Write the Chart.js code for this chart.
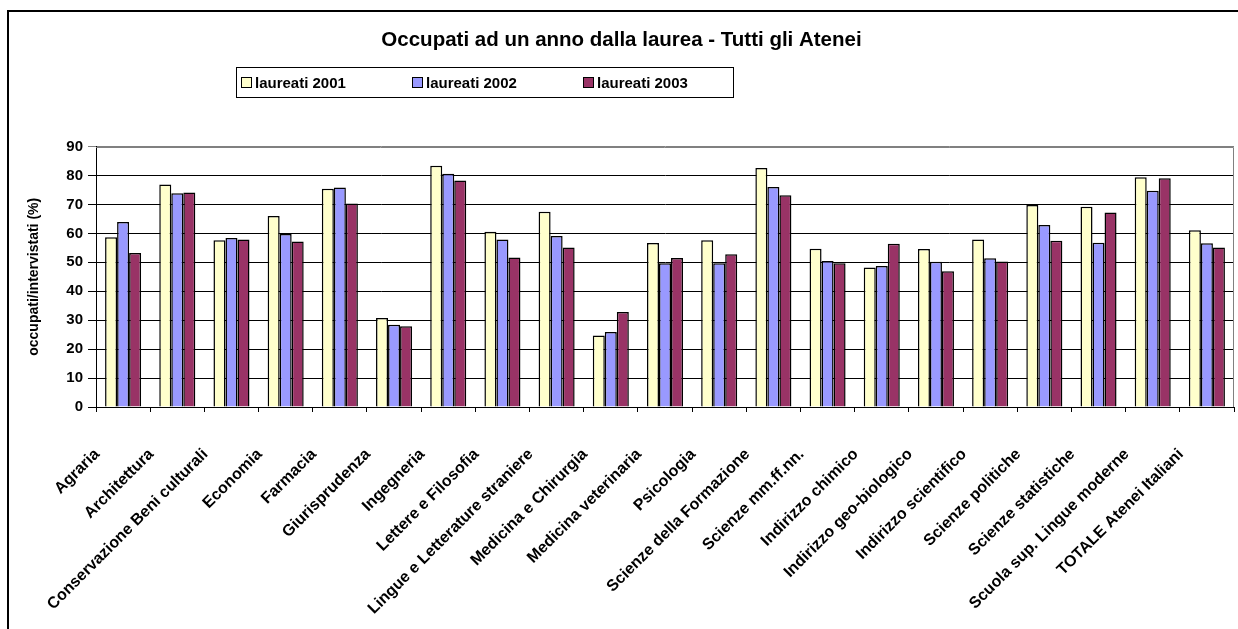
<!DOCTYPE html>
<html>
<head>
<meta charset="utf-8">
<script src="https://cdn.jsdelivr.net/npm/chart.js@4/dist/chart.umd.min.js"></script>
<style>
  html, body { margin: 0; padding: 0; background: #ffffff; }
  canvas { display: block; }
</style>
</head>
<body>
<canvas id="c" width="1238" height="629"></canvas>
<script>
const chartTitle = "Occupati ad un anno dalla laurea - Tutti gli Atenei";
const yAxisTitle = "occupati/intervistati (%)";
const categories = [
  "Agraria", "Architettura", "Conservazione Beni culturali", "Economia", "Farmacia",
  "Giurisprudenza", "Ingegneria", "Lettere e Filosofia", "Lingue e Letterature straniere",
  "Medicina e Chirurgia", "Medicina veterinaria", "Psicologia", "Scienze della Formazione",
  "Scienze mm.ff.nn.", "Indirizzo chimico", "Indirizzo geo-biologico", "Indirizzo scientifico",
  "Scienze politiche", "Scienze statistiche", "Scuola sup. Lingue moderne", "TOTALE Atenei Italiani"
];
const seriesNames = ["laureati 2001", "laureati 2002", "laureati 2003"];
const laureati2001 = [58.7, 76.9, 57.6, 66.0, 75.4, 30.8, 83.4, 60.6, 67.5, 24.7, 56.7, 57.6, 82.6, 54.7, 48.2, 54.6, 57.9, 69.8, 69.2, 79.4, 61.1];
const laureati2002 = [63.9, 73.9, 58.4, 59.8, 75.9, 28.4, 80.6, 57.9, 59.1, 25.9, 49.7, 49.7, 76.0, 50.5, 48.7, 50.2, 51.4, 62.9, 56.8, 74.7, 56.6];
const laureati2003 = [53.2, 74.1, 57.9, 57.2, 70.3, 27.9, 78.3, 51.7, 55.1, 32.8, 51.5, 52.8, 73.2, 49.7, 56.4, 46.9, 50.3, 57.5, 67.2, 79.1, 55.1];
const yTicks = [0, 10, 20, 30, 40, 50, 60, 70, 80, 90];
const seriesColors = ["#FFFFCC", "#9999FF", "#993366"];

const FONT = "Arial, 'Liberation Sans', sans-serif";

// outer frame + plot border
const framePlugin = {
  id: 'frame',
  beforeDraw(chart) {
    const ctx = chart.ctx;
    ctx.save();
    ctx.fillStyle = '#ffffff';
    ctx.fillRect(0, 0, chart.width, chart.height);
    ctx.restore();
  },
  afterDraw(chart) {
    const ctx = chart.ctx;
    const a = chart.chartArea;
    ctx.save();
    ctx.strokeStyle = '#808080';
    ctx.lineWidth = 1;
    ctx.beginPath();
    ctx.moveTo(Math.round(a.left), Math.round(a.top) + 0.5);
    ctx.lineTo(Math.round(a.right) - 0.5, Math.round(a.top) + 0.5);
    ctx.lineTo(Math.round(a.right) - 0.5, Math.round(a.bottom));
    ctx.stroke();
    ctx.strokeStyle = '#000000';
    ctx.lineWidth = 2;
    ctx.beginPath();
    ctx.moveTo(8, chart.height + 5);
    ctx.lineTo(8, 11);
    ctx.lineTo(chart.width + 5, 11);
    ctx.stroke();
    ctx.restore();
  }
};

// legend box drawn from the datasets
const legendBoxPlugin = {
  id: 'legendBox',
  afterDraw(chart) {
    const ctx = chart.ctx;
    const box = { x: 236.5, y: 67.5, w: 497, h: 30 };
    ctx.save();
    ctx.strokeStyle = '#000000';
    ctx.lineWidth = 1;
    ctx.fillStyle = '#ffffff';
    ctx.fillRect(box.x, box.y, box.w, box.h);
    ctx.strokeRect(box.x, box.y, box.w, box.h);
    ctx.font = "bold 15px " + FONT;
    ctx.textBaseline = 'middle';
    ctx.textAlign = 'left';
    const startX = 241, step = 171, cy = box.y + box.h / 2;
    chart.data.datasets.forEach((ds, i) => {
      const x = startX + i * step;
      ctx.fillStyle = ds.backgroundColor;
      ctx.fillRect(x + 0.5, cy - 5, 10, 10);
      ctx.strokeStyle = '#000000';
      ctx.lineWidth = 1;
      ctx.strokeRect(x + 0.5, cy - 5, 10, 10);
      ctx.fillStyle = '#000000';
      ctx.fillText(ds.label, x + 14, cy + 1);
    });
    ctx.restore();
  }
};

new Chart(document.getElementById('c'), {
  type: 'bar',
  data: {
    labels: categories,
    datasets: [
      { label: seriesNames[0], data: laureati2001, backgroundColor: seriesColors[0] },
      { label: seriesNames[1], data: laureati2002, backgroundColor: seriesColors[1] },
      { label: seriesNames[2], data: laureati2003, backgroundColor: seriesColors[2] }
    ]
  },
  options: {
    responsive: false,
    animation: false,
    devicePixelRatio: 1,
    layout: { padding: { top: 11, left: 9, right: 4, bottom: 0 } },
    datasets: {
      bar: {
        borderColor: '#000000',
        borderWidth: 1.5,
        categoryPercentage: 0.665,
        barPercentage: 1.0
      }
    },
    plugins: {
      legend: { display: false },
      tooltip: { enabled: false },
      title: {
        display: true,
        text: chartTitle,
        color: '#000000',
        font: { family: FONT, size: 20.5, weight: 'bold' },
        padding: { top: 17, bottom: 94 }
      }
    },
    scales: {
      x: {
        grid: {
          display: true,
          drawOnChartArea: false,
          drawTicks: true,
          tickLength: 5,
          color: '#000000',
          offset: true
        },
        border: { display: true, color: '#000000', width: 1 },
        ticks: {
          autoSkip: false,
          maxRotation: 45,
          minRotation: 45,
          color: '#000000',
          font: { family: FONT, size: 16, weight: 'bold' },
          labelOffset: -26,
          padding: 33
        },
        afterFit(scale) {
          scale.height = 222;
          scale.paddingLeft = 0;
          scale.paddingRight = 0;
        }
      },
      y: {
        min: 0,
        max: 90,
        afterBuildTicks(scale) { scale.ticks = yTicks.map(v => ({ value: v })); },
        grid: {
          color: (c) => (c.tick && c.tick.value === 90) ? '#808080' : '#000000',
          lineWidth: 1,
          tickLength: 8,
          drawTicks: true
        },
        border: { display: true, color: '#000000', width: 1 },
        ticks: {
          color: '#000000',
          font: { family: FONT, size: 15, weight: 'bold' },
          padding: 5
        },
        title: {
          display: true,
          text: yAxisTitle,
          color: '#000000',
          font: { family: FONT, size: 14, weight: 'bold' },
          padding: { top: 17, bottom: 0 }
        },
        afterFit(scale) { scale.width = 87; }
      }
    }
  },
  plugins: [framePlugin, legendBoxPlugin]
});
</script>
</body>
</html>
